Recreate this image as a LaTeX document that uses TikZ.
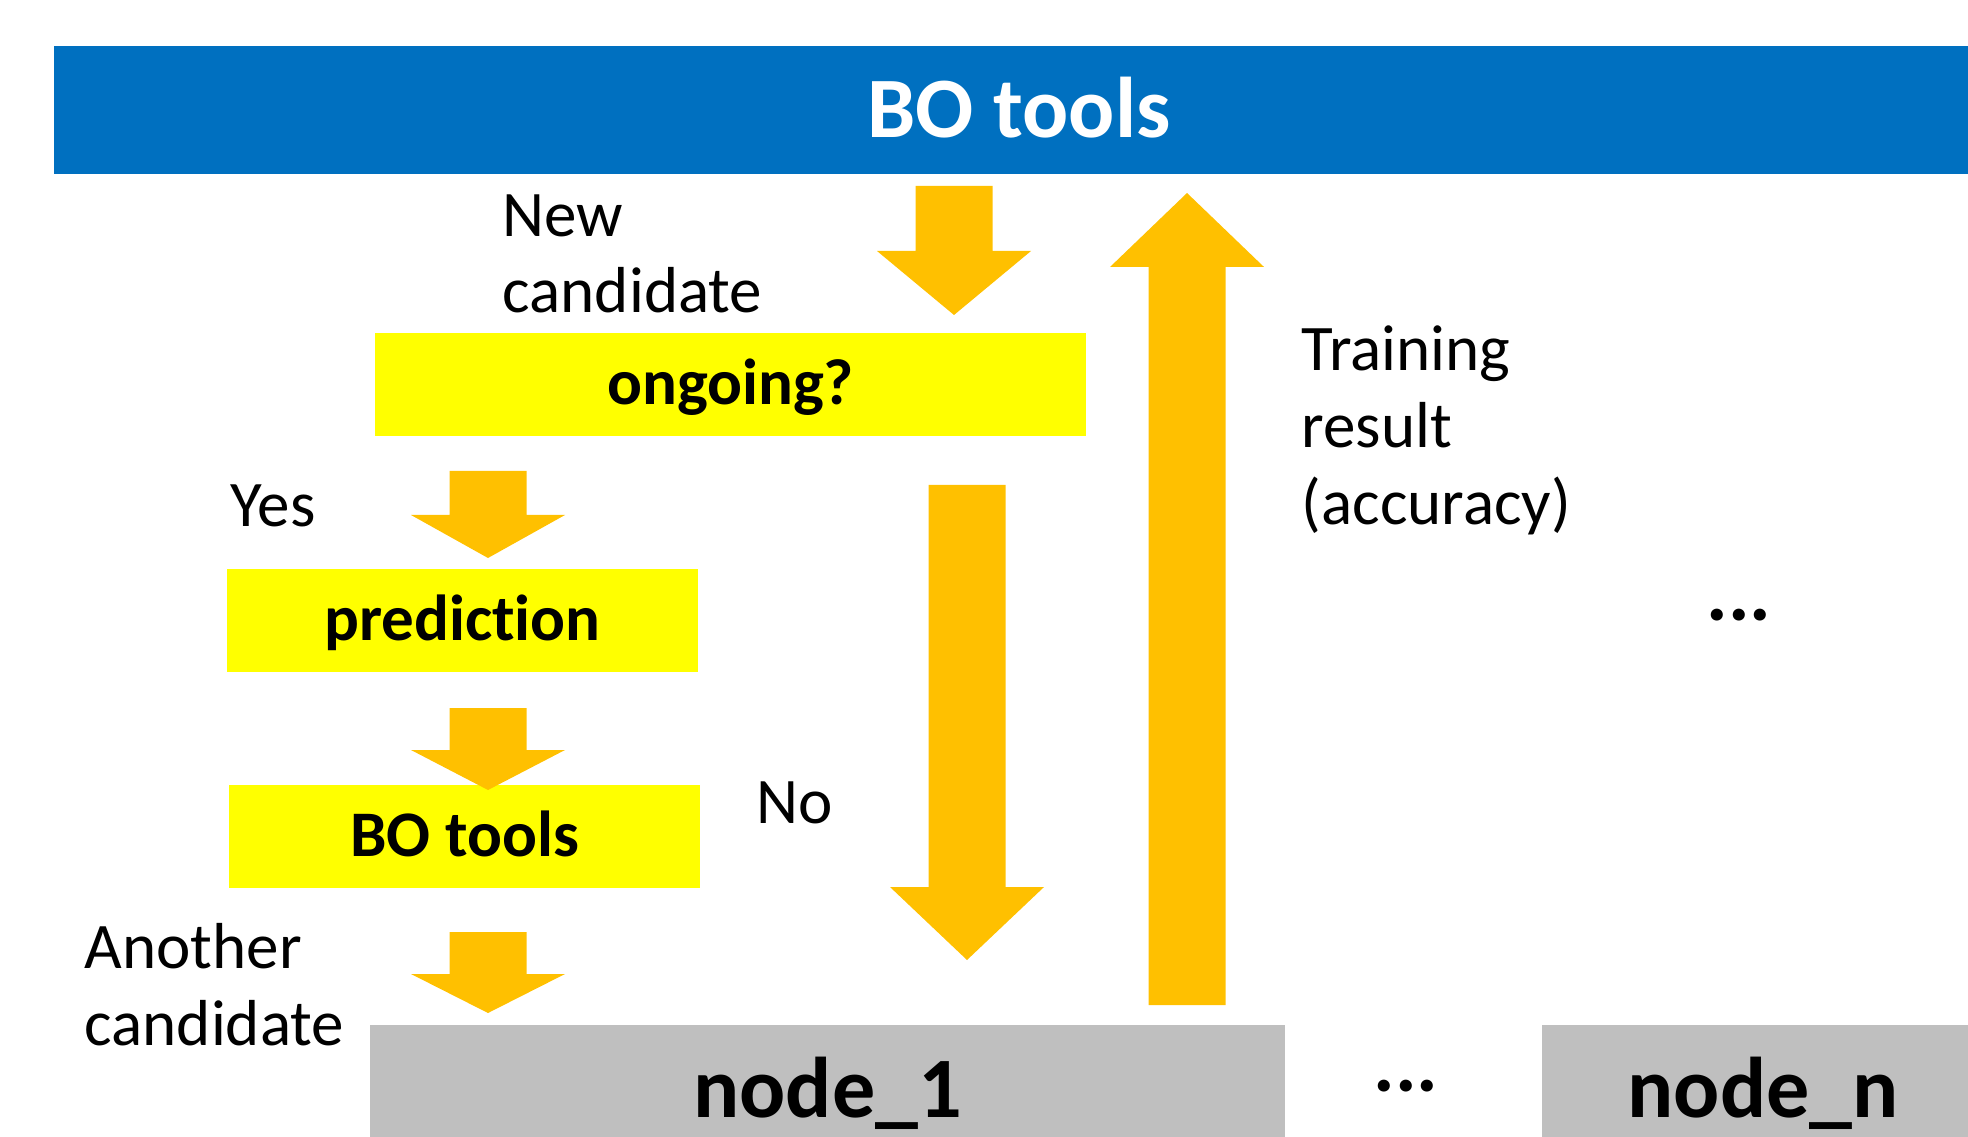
\documentclass[tikz,border=0pt]{standalone}
\usepackage{fontspec}
\setmainfont{Carlito}[RawFeature={-liga}]
\usepackage{tikz}
\usetikzlibrary{arrows.meta}
\definecolor{barblue}{HTML}{0070C0}
\definecolor{askyellow}{HTML}{FFFF00}
\definecolor{flowamber}{HTML}{FFC000}
\definecolor{hostgray}{HTML}{BFBFBF}
\tikzset{
  basebox/.style={inner sep=0pt,font=\fontsize{18.5}{22}\selectfont\bfseries},
  titlebar/.style={basebox,fill=barblue,text=white,minimum height=12.8mm,
                   font=\fontsize{24.5}{29}\selectfont\bfseries,
                   text height=7mm,text depth=1.4mm},
  askbox/.style={basebox,fill=askyellow,minimum width=47.1mm,minimum height=10.3mm,
                 text height=5.2mm,text depth=1.2mm},
  hostbox/.style={basebox,fill=hostgray,minimum height=11.2mm,
                  font=\fontsize{24.5}{29}\selectfont\bfseries,
                  text height=7.8mm,text depth=0.6mm},
  note/.style={inner sep=0pt,anchor=base west,align=left,
               font=\fontsize{18.5}{21.8}\selectfont},
  moredots/.style={inner sep=0pt,anchor=base,font=\fontsize{23}{26}\selectfont\bfseries},
}
% block arrow: start, head base, tip
\newcommand\fatflow[3]{%
  \fill[flowamber] ([xshift=-3.85mm]#1) -- ([xshift=-3.85mm]#2) -- ([xshift=-7.7mm]#2)
    -- (#3) -- ([xshift=7.7mm]#2) -- ([xshift=3.85mm]#2) -- ([xshift=3.85mm]#1) -- cycle;}

\begin{document}
\begin{tikzpicture}[x=0.1mm,y=-0.1mm]
\useasboundingbox (0,0) rectangle (1968,1137);

\node[titlebar, minimum width=193mm] (bar) at (1019,110) {BO tools};

\node[askbox, minimum width=71.1mm] (ongoing) at (730.5,384.5) {ongoing?};
\node[askbox] (predict) at (462.5,620.5) {prediction};
\node[askbox] (botools) at (464.5,836.5) {BO tools};

\node[hostbox, minimum width=91.5mm] (node1) at (827.5,1081) {node\_1};
\node[hostbox, minimum width=44.2mm] (noden) at (1763,1081) {node\_n};

% multi-line notes sit on their last baseline
\node[note] (newlbl) at (502,313) {New\\candidate};
\node[note] (yeslbl) at (230,527) {Yes};
\node[note] (nolbl) at (756,823) {No};
\node[note] (anotherlbl) at (84,1045) {Another\\candidate};
\node[note] (resultlbl) at (1301,524) {Training\\result\\(accuracy)};
\node[moredots] (dotsmid) at (1739,620) {...};
\node[moredots] (dotsbot) at (1406,1091) {...};

% arrow ends
\coordinate (newS) at (954,186);  \coordinate (newB) at (954,251);  \coordinate (newT) at (954,315);
\coordinate (resS) at (1187,1005); \coordinate (resB) at (1187,267); \coordinate (resT) at (1187,193);
\coordinate (noS) at (967,485);   \coordinate (noB) at (967,887);   \coordinate (noT) at (967,960);
\coordinate (yesS) at (488,471);  \coordinate (yesB) at (488,515);  \coordinate (yesT) at (488,558);
\coordinate (preS) at (488,708);  \coordinate (preB) at (488,750);  \coordinate (preT) at (488,790);
\coordinate (anoS) at (488,932);  \coordinate (anoB) at (488,974);  \coordinate (anoT) at (488,1013);

\fatflow{newS}{newB}{newT}
\fatflow{resS}{resB}{resT}
\fatflow{noS}{noB}{noT}
\fatflow{yesS}{yesB}{yesT}
\fatflow{preS}{preB}{preT}
\fatflow{anoS}{anoB}{anoT}

\end{tikzpicture}
\end{document}
